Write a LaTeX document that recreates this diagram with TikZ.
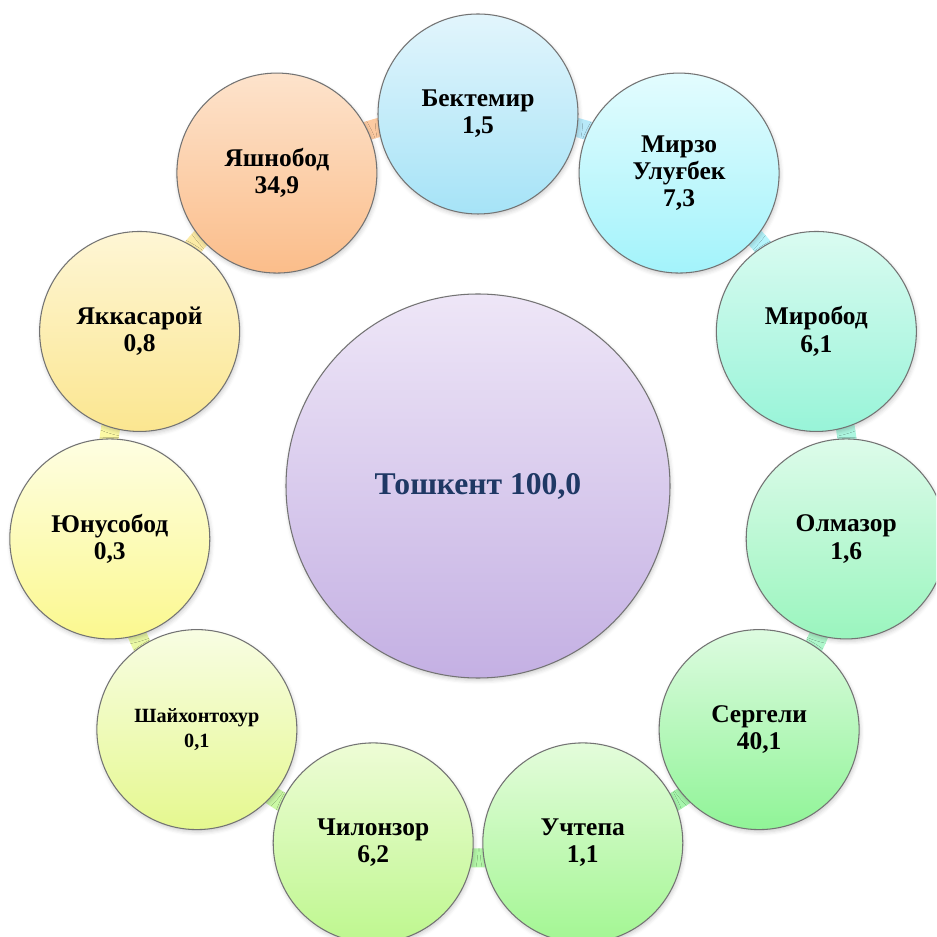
\documentclass[tikz,border=0pt]{standalone}
\usepackage{fontspec}
\setmainfont{Liberation Serif}
\usetikzlibrary{shadows.blur,backgrounds}

\definecolor{textnavy}{HTML}{1F3864}
\definecolor{d0top}{HTML}{EEE6F7}\definecolor{d0bot}{HTML}{C4B0E3}
\definecolor{d1top}{HTML}{E2F5FC}\definecolor{d1bot}{HTML}{A6E3F7}
\definecolor{d2top}{HTML}{E3FCFE}\definecolor{d2bot}{HTML}{A3F3FB}
\definecolor{d3top}{HTML}{DAFBF1}\definecolor{d3bot}{HTML}{98F4D8}
\definecolor{d4top}{HTML}{DDFBEA}\definecolor{d4bot}{HTML}{9AF5BE}
\definecolor{d5top}{HTML}{DDFBE0}\definecolor{d5bot}{HTML}{90F497}
\definecolor{d6top}{HTML}{E4FCDB}\definecolor{d6bot}{HTML}{A3F693}
\definecolor{d7top}{HTML}{EEFCD6}\definecolor{d7bot}{HTML}{BEF78F}
\definecolor{d8top}{HTML}{F8FDE3}\definecolor{d8bot}{HTML}{E5F88F}
\definecolor{d9top}{HTML}{FEFEE2}\definecolor{d9bot}{HTML}{FBF88F}
\definecolor{d10top}{HTML}{FEF6D5}\definecolor{d10bot}{HTML}{FBE690}
\definecolor{d11top}{HTML}{FDE3CC}\definecolor{d11bot}{HTML}{FBBD8A}

\begin{document}
\begin{tikzpicture}
  \tikzset{vertex/.style = {shape=circle,minimum size=4cm,inner sep=1pt,align=center,draw=black!55,line width=0.6pt,
      blur shadow={shadow xshift=0.02cm,shadow yshift=-0.05cm,shadow opacity=20,shadow blur steps=4,shadow blur radius=0.08cm},
      font=\bfseries\fontsize{14.5}{15.5}\selectfont}}
  \tikzset{vertexsm/.style = {vertex,font=\bfseries\fontsize{11.5}{14}\selectfont}}
  \tikzset{ring/.style = {-,line width=0.38cm}}

  \useasboundingbox (-9.56,-9.02) rectangle (9.16,9.72);
  \clip (-9.56,-9.02) rectangle (9.16,9.72);

	\node[vertex,minimum size=7.68cm,top color=d0top,bottom color=d0bot,text=textnavy,font=\bfseries\fontsize{18}{20}\selectfont] (0) at (0,0) {Тошкент 100{,}0};

    \foreach \i/\st/\txt in {1/vertex/Бектемир\\1{,}5, 2/vertex/Мирзо\\Улуғбек\\7{,}3, 3/vertex/Миробод\\6{,}1, 4/vertex/Олмазор\\1{,}6, 5/vertex/Сергели\\40{,}1, 6/vertex/Учтепа\\1{,}1, 7/vertex/Чилонзор\\6{,}2, 8/vertexsm/Шайхонтохур\\0{,}1, 9/vertex/Юнусобод\\0{,}3, 10/vertex/Яккасарой\\0{,}8, 11/vertex/Яшнобод\\34{,}9}
    \node[\st,top color=d\i top,bottom color=d\i bot] (\i) at ({90-(\i-1)*360/11}:7.44) {\txt};

  \begin{scope}[on background layer]
    \foreach \from/\to in {1/2,2/3,3/4,4/5,5/6,6/7,7/8,8/9,9/10,10/11,11/1}
    \draw[ring,draw=d\from bot!80!white] (\from.center) to[bend left=16.36,looseness=0.87] (\to.center);
  \end{scope}

\end{tikzpicture}
\end{document}
